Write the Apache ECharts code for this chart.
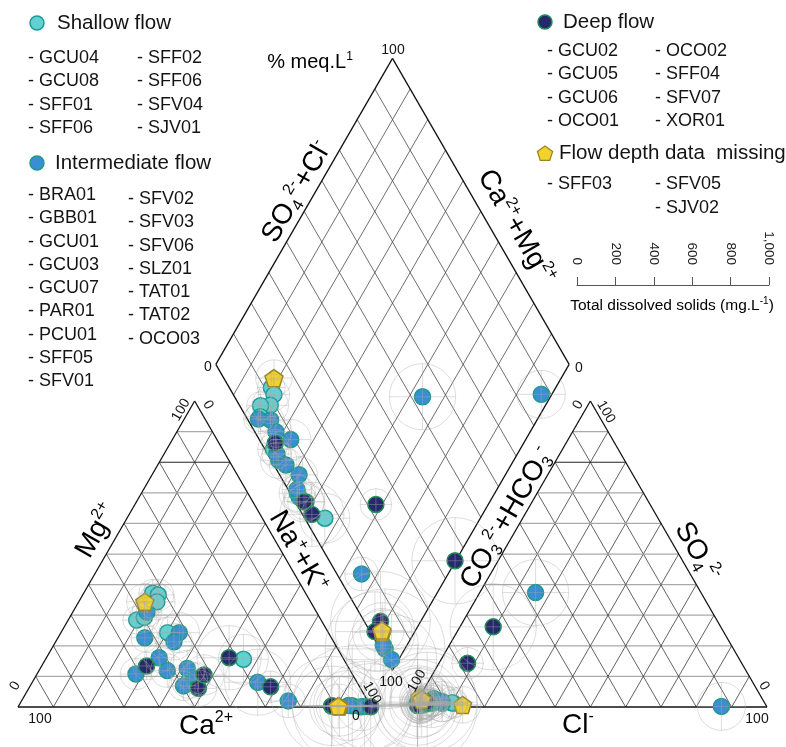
<!DOCTYPE html>
<html>
<head>
<meta charset="utf-8">
<script src="https://cdn.jsdelivr.net/npm/echarts@6/dist/echarts.min.js"></script>
<style>
html, body { margin: 0; padding: 0; background: #fff; }
#chart { width: 786px; height: 747px; }
</style>
</head>
<body>
<div id="chart"></div>
<script>
// Piper diagram of groundwater samples (% meq/L).
// Ca2+ and HCO3-/CO3 2- are the remainders of each ternary (100 - others).

// Shallow flow
const shallowNames = ['GCU04', 'GCU08', 'SFF01', 'SFF06', 'SFF02', 'SFF06', 'SFV04', 'SJV01'];
const shallowMg  = [37.2, 36.6, 34.4, 28.4, 29.3, 24.3, 8.8, 15.6];
const shallowNaK = [19.5, 21.4, 22.1, 19.4, 21.1, 30.2, 44.1, 56.0];
const shallowSO4 = [1.2, 1.4, 1.2, 1.3, 1.0, 1.0, 0.6, 1.4];
const shallowCl  = [10.7, 10.1, 7.5, 4.6, 3.0, 1.4, 1.4, 4.3];
const shallowTDS = [145, 165, 190, 145, 155, 165, 190, 260];

// Intermediate flow
const interNames = ['BRA01', 'GBB01', 'GCU01', 'GCU03', 'GCU07', 'PAR01', 'PCU01', 'SFF05',
                    'SFV01', 'SFV02', 'SFV03', 'SFV06', 'SLZ01', 'TAT01', 'TAT02', 'OCO03'];
const interMg  = [8.1, 0.1, 2.0, 22.6, 10.8, 24.3, 21.3, 16.1, 11.9, 12.6, 9.4, 0.4, 0.2, 31.0, 6.9, 0.5];
const interNaK = [63.8, 97.0, 75.5, 24.6, 28.0, 33.5, 33.5, 31.9, 36.3, 41.6, 45.4, 94.4, 98.0, 21.0, 43.4, 93.3];
const interSO4 = [37.4, 0.2, 2.8, 1.5, 2.0, 1.8, 0.8, 0.65, 1.2, 1.8, 0.7, 0.6, 0.8, 1.1, 0.9, 1.2];
const interCl  = [15.8, 87.0, 4.2, 4.9, 4.0, 7.1, 1.3, 1.95, 2.2, 3.7, 1.2, 0.8, 0.7, 2.0, 1.6, 0.3];
const interTDS = [345, 250, 175, 145, 165, 210, 190, 155, 175, 190, 165, 625, 470, 155, 155, 365];

// Deep flow
const deepNames = ['GCU02', 'GCU05', 'GCU06', 'OCO01', 'OCO02', 'SFF04', 'SFV07', 'XOR01'];
const deepMg  = [0.1, 6.6, 13.4, 6.1, 16.1, 10.5, 0.3, 0.4];
const deepNaK = [99.8, 68.2, 29.7, 48.0, 51.7, 47.4, 88.6, 88.7];
const deepSO4 = [26.2, 14.3, 1.5, 1.0, 0.8, 1.2, 1.6, 0.5];
const deepCl  = [9.4, 8.1, 2.4, 2.0, 1.85, 1.3, 3.0, 0.85];
const deepTDS = [450, 165, 145, 190, 335, 210, 520, 415];

// Flow depth data missing
const missingNames = ['SFF03', 'SFV05', 'SJV02'];
const missingMg  = [34.4, 0.2, 0.3];
const missingNaK = [18.7, 90.9, 90.5];
const missingSO4 = [0.7, 3.2, 2.5];
const missingCl  = [13.5, 0.1, 1.0];
const missingTDS = [190, 310, 230];

// TDS scale bar ticks
const tdsTicks = [0, 200, 400, 600, 800, 1000];

const FONT = '"Liberation Sans", Arial, Helvetica, sans-serif';
const INK = '#141414';

// ---- Piper geometry (data units: triangle side = 100) ----
const H = Math.sqrt(3) / 2;
const GAP = 12;
function cationXY(mg, na) { return [na + mg / 2, mg * H]; }
function anionXY(so4, cl) { return [100 + GAP + cl + so4 / 2, so4 * H]; }
function diamondXY(na, s) {
  const c = 100 - na;
  return [100 + GAP / 2 + (s - c) / 2, GAP * H + H * (s + c)];
}

// ---- frame and grid segments ----
const LINE_STYLES = [
  { c: '#111111', w: 1.3 },  // outline
  { c: '#3a3a3a', w: 0.8 },  // oblique grid
  { c: '#a9a9a9', w: 1.2 },  // horizontal grid
  { c: '#222222', w: 1.0 },  // 80 % horizontal
  { c: '#4a4a4a', w: 0.8 }   // diamond grid
];
const segs = [];
function seg(a, b, s) { segs.push([a[0], a[1], b[0], b[1], s]); }
for (let i = 10; i < 100; i += 10) {
  seg(cationXY(i, 0), cationXY(i, 100 - i), i === 80 ? 3 : 2);
  seg(cationXY(0, i), cationXY(100 - i, i), 1);
  seg(cationXY(0, 100 - i), cationXY(100 - i, 0), 1);
  seg(anionXY(i, 0), anionXY(i, 100 - i), i === 80 ? 3 : 2);
  seg(anionXY(0, i), anionXY(100 - i, i), 1);
  seg(anionXY(0, 100 - i), anionXY(100 - i, 0), 1);
  seg(diamondXY(100 - i, 0), diamondXY(100 - i, 100), 4);
  seg(diamondXY(0, i), diamondXY(100, i), 4);
}
function outline(pts) { pts.forEach((p, i) => seg(p, pts[(i + 1) % pts.length], 0)); }
outline([cationXY(0, 0), cationXY(100, 0), cationXY(0, 100)]);
outline([anionXY(0, 0), anionXY(100, 0), anionXY(0, 100)]);
outline([diamondXY(100, 0), diamondXY(0, 0), diamondXY(0, 100), diamondXY(100, 100)]);

// ---- groups ----
const groups = [
  { key: 'Shallow flow', names: shallowNames, mg: shallowMg, na: shallowNaK, so4: shallowSO4, cl: shallowCl, tds: shallowTDS,
    fill: '#63d1d1', edge: '#1a9b96', symbol: 'circle', size: 16 },
  { key: 'Intermediate flow', names: interNames, mg: interMg, na: interNaK, so4: interSO4, cl: interCl, tds: interTDS,
    fill: '#3b8ed3', edge: '#1f9a8a', symbol: 'circle', size: 16 },
  { key: 'Deep flow', names: deepNames, mg: deepMg, na: deepNaK, so4: deepSO4, cl: deepCl, tds: deepTDS,
    fill: '#262a6c', edge: '#1f8d55', symbol: 'circle', size: 16 },
  { key: 'Flow depth data missing', names: missingNames, mg: missingMg, na: missingNaK, so4: missingSO4, cl: missingCl, tds: missingTDS,
    fill: '#f4d22c', edge: '#9a861c', symbol: 'path://M0,-10L9.51,-3.09L5.88,8.09L-5.88,8.09L-9.51,-3.09Z', size: 18 }
];

function samplePoints(g) {
  const out = [];
  g.names.forEach((n, i) => {
    const s = g.so4[i] + g.cl[i];
    out.push({ name: n, value: cationXY(g.mg[i], g.na[i]).concat(g.tds[i]) });
    out.push({ name: n, value: anionXY(g.so4[i], g.cl[i]).concat(g.tds[i]) });
    out.push({ name: n, value: diamondXY(g.na[i], s).concat(g.tds[i]) });
  });
  return out;
}

// TDS scale bar placement (pixels); ring diameter follows the same scale
const TDS_BAR = { left: 577, top: 285, width: 192 };
const TDS_MAX = tdsTicks[tdsTicks.length - 1];
const TDS_PX = TDS_BAR.width / TDS_MAX;

const series = [];
series.push({
  type: 'custom', xAxisIndex: 0, yAxisIndex: 0, z: 1, silent: true, clip: false,
  data: segs,
  renderItem: (params, api) => {
    const p1 = api.coord([api.value(0), api.value(1)]);
    const p2 = api.coord([api.value(2), api.value(3)]);
    const st = LINE_STYLES[api.value(4)];
    return { type: 'line', shape: { x1: p1[0], y1: p1[1], x2: p2[0], y2: p2[1] },
             style: { stroke: st.c, lineWidth: st.w, fill: null } };
  }
});
groups.forEach(g => {
  series.push({
    type: 'scatter', name: g.key, xAxisIndex: 0, yAxisIndex: 0, z: 3, clip: false,
    symbol: g.symbol, symbolSize: g.size, symbolKeepAspect: true,
    itemStyle: { color: g.fill, borderColor: g.edge, borderWidth: 1.5, opacity: 1 },
    data: samplePoints(g)
  });
});
const ringData = [];
groups.forEach(g => samplePoints(g).forEach(p => ringData.push(p.value)));
series.push({
  type: 'custom', xAxisIndex: 0, yAxisIndex: 0, z: 4, silent: true, clip: false,
  data: ringData,
  renderItem: (params, api) => {
    const c = api.coord([api.value(0), api.value(1)]);
    const r = api.value(2) * TDS_PX / 2;
    const st = { stroke: 'rgba(170,170,170,0.5)', lineWidth: 0.8, fill: null };
    return { type: 'group', children: [
      { type: 'circle', shape: { cx: c[0], cy: c[1], r: r }, style: st },
      { type: 'line', shape: { x1: c[0] - r, y1: c[1], x2: c[0] + r, y2: c[1] }, style: st },
      { type: 'line', shape: { x1: c[0], y1: c[1] - r, x2: c[0], y2: c[1] + r }, style: st }
    ] };
  }
});
// keep the scale-bar grid alive
series.push({ type: 'scatter', xAxisIndex: 1, yAxisIndex: 1, data: [], silent: true });

// ---- text ----
const RICH = {
  b:   { fontSize: 28, fontFamily: FONT, color: INK, lineHeight: 32 },
  sup: { fontSize: 16, fontFamily: FONT, color: INK, lineHeight: 17, verticalAlign: 'top' },
  sub: { fontSize: 16, fontFamily: FONT, color: INK, lineHeight: 17, verticalAlign: 'bottom' },
  m:   { fontSize: 20, fontFamily: FONT, color: INK, lineHeight: 23 },
  ms:  { fontSize: 12, fontFamily: FONT, color: INK, lineHeight: 13, verticalAlign: 'top' },
  t:   { fontSize: 15.5, fontFamily: FONT, color: INK, lineHeight: 19 },
  ts:  { fontSize: 10,  fontFamily: FONT, color: INK, lineHeight: 11, verticalAlign: 'top' }
};
const DEG = Math.PI / 180;
const graphics = [];
function richText(text, x, y, rot) {
  graphics.push({ type: 'text', x: x, y: y, rotation: (rot || 0) * DEG, z: 10, silent: true,
    style: { text: text, rich: RICH, align: 'center', verticalAlign: 'middle' } });
}
function plainText(text, x, y, size, align, rot) {
  graphics.push({ type: 'text', x: x, y: y, rotation: (rot || 0) * DEG, z: 10, silent: true,
    style: { text: text, fontSize: size, fontFamily: FONT, fill: INK,
             align: align || 'center', verticalAlign: 'middle' } });
}

// axis titles
richText('{b|SO}{sub|4}{sup|2-}{b|+Cl}{sup|-}', 297, 192, 60);
richText('{b|Ca}{sup|2+}{b|+Mg}{sup|2+}', 516, 227, -60);
richText('{b|Mg}{sup|2+}', 97, 531, 60);
richText('{b|Na}{sup|+}{b|+K}{sup|+}', 298, 552, -60);
richText('{b|CO}{sub|3}{sup|2-}{b|+HCO}{sub|3}{sup|-}', 507, 518, 60);
richText('{b|SO}{sub|4}{sup|2-}', 697, 552, -60);
richText('{b|Ca}{sup|2+}', 206, 726, 0);
richText('{b|Cl}{sup|-}', 578, 725, 0);
richText('{m|% meq.L}{ms|1}', 310, 62, 0);

// scale values along the edges
const edgeLabels = [
  ['100', 181, 410, 60], ['0', 208, 405, -60], ['0', 15, 686, 60], ['100', 40, 719, 0],
  ['0', 356, 716, 0], ['100', 372, 693, -60],
  ['0', 578, 405, 60], ['100', 606, 412, -60], ['100', 417, 681, 60], ['0', 764, 686, -60],
  ['100', 757, 719, 0],
  ['100', 393, 50, 0], ['0', 208, 367, 0], ['0', 579, 368, 0], ['100', 391, 682, 0]
];
edgeLabels.forEach(l => plainText(l[0], l[1], l[2], 14, 'center', l[3]));

// legend blocks
function legendMarker(g, x, y) {
  if (g.symbol === 'circle') {
    graphics.push({ type: 'circle', shape: { cx: x, cy: y, r: 7 }, z: 10, silent: true,
      style: { fill: g.fill, stroke: g.edge, lineWidth: 1.5 } });
  } else {
    const pts = [];
    for (let k = 0; k < 5; k++) {
      const a = -Math.PI / 2 + k * 2 * Math.PI / 5;
      pts.push([x + 8 * Math.cos(a), y + 8 * Math.sin(a) + 1]);
    }
    graphics.push({ type: 'polygon', shape: { points: pts }, z: 10, silent: true,
      style: { fill: g.fill, stroke: g.edge, lineWidth: 1.3 } });
  }
}
function legendBlock(g, mx, my, tx, cols) {
  legendMarker(g, mx, my);
  plainText(g.key === 'Flow depth data missing' ? 'Flow depth data  missing' : g.key, tx, my, 20.5, 'left');
  cols.forEach(col => {
    col.names.forEach((n, i) => plainText('- ' + n, col.x, col.y + i * col.step, 18, 'left'));
  });
}
legendBlock(groups[0], 37, 23, 57, [
  { names: shallowNames.slice(0, 4), x: 28, y: 58, step: 23.4 },
  { names: shallowNames.slice(4), x: 137, y: 58, step: 23.4 }
]);
legendBlock(groups[1], 37, 163, 55, [
  { names: interNames.slice(0, 9), x: 28, y: 195, step: 23.3 },
  { names: interNames.slice(9), x: 128, y: 199, step: 23.3 }
]);
legendBlock(groups[2], 545, 22, 563, [
  { names: deepNames.slice(0, 4), x: 547, y: 51, step: 23.3 },
  { names: deepNames.slice(4), x: 655, y: 51, step: 23.3 }
]);
legendBlock(groups[3], 545, 153, 559, [
  { names: missingNames.slice(0, 1), x: 547, y: 184, step: 24 },
  { names: missingNames.slice(1), x: 655, y: 184, step: 24 }
]);
richText('{t|Total dissolved solids (mg.L}{ts|-1}{t|)}', 672, 306, 0);

const chart = echarts.init(document.getElementById('chart'), null, { renderer: 'canvas' });
chart.setOption({
  animation: false,
  backgroundColor: '#ffffff',
  grid: [
    { left: 18, top: 0, width: 749, height: 747 },
    { left: TDS_BAR.left, top: TDS_BAR.top, width: TDS_BAR.width, height: 20 }
  ],
  xAxis: [
    { gridIndex: 0, type: 'value', min: 0, max: 212, show: false },
    { gridIndex: 1, type: 'value', min: 0, max: TDS_MAX, interval: 200, position: 'top',
      axisLine: { show: true, onZero: false, lineStyle: { color: '#555', width: 1 } },
      axisTick: { show: true, length: 8, inside: false, lineStyle: { color: '#555' } },
      axisLabel: { rotate: 90, margin: 20, fontSize: 13.5, fontFamily: FONT, color: '#222',
                   showMinLabel: true, showMaxLabel: true,
                   formatter: v => v.toLocaleString('en-US') },
      splitLine: { show: false } }
  ],
  yAxis: [
    { gridIndex: 0, type: 'value', min: -11.32, max: 200.12, show: false },
    { gridIndex: 1, type: 'value', min: 0, max: 1, show: false }
  ],
  series: series,
  graphic: graphics
});
</script>
</body>
</html>
